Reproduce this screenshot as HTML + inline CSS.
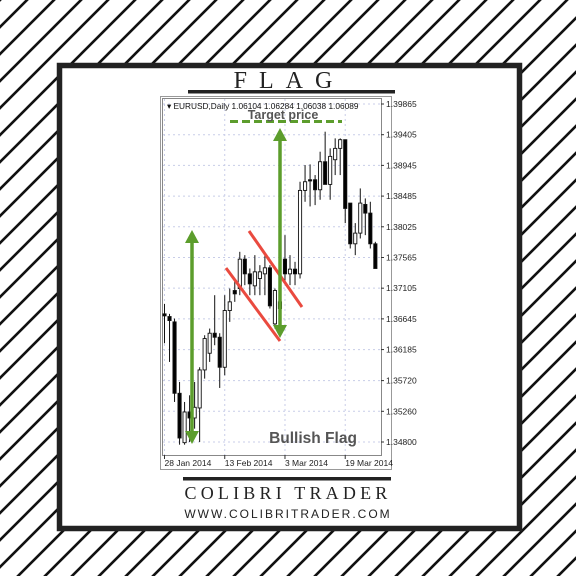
<!DOCTYPE html>
<html><head><meta charset="utf-8">
<style>
html,body{margin:0;padding:0;background:#fff;}
#wrap{position:relative;width:576px;height:576px;overflow:hidden;font-family:"Liberation Sans",sans-serif;}
svg{position:absolute;left:0;top:0;}
</style></head>
<body>
<div id="wrap">
<svg id="bg" width="576" height="576">
  <defs>
    <pattern id="stripes" width="27" height="27" patternUnits="userSpaceOnUse">
      <path d="M-7,7 L7,-7 M0,27 L27,0 M20,34 L34,20" stroke="#111" stroke-width="2.6"/>
    </pattern>
  </defs>
  <rect width="576" height="576" fill="#fff"/>
  <rect width="576" height="576" fill="url(#stripes)"/>
  <rect x="59.5" y="65.5" width="460" height="463" fill="#fff" stroke="#222" stroke-width="5.5"/>
  <text x="289" y="88" text-anchor="middle" font-family="Liberation Serif,serif" font-size="24" letter-spacing="12" fill="#222">FLAG</text>
  <rect x="188" y="90" width="207" height="3.5" fill="#222"/>
  <rect x="183" y="477" width="208" height="3.5" fill="#222"/>
  <text x="288" y="499" text-anchor="middle" font-family="Liberation Serif,serif" font-size="18" letter-spacing="4.2" fill="#222">COLIBRI TRADER</text>
  <text x="288" y="518" text-anchor="middle" font-family="Liberation Sans,sans-serif" font-size="12" letter-spacing="2" fill="#222">WWW.COLIBRITRADER.COM</text>
</svg>
<svg id="chart" width="576" height="576"></svg>
</div>
<script>
const opens  = [1.3672,1.3668,1.3660,1.3553,1.3479,1.3525,1.3516,1.3531,1.3588,1.3613,1.3643,1.3637,1.3592,1.3677,1.3707,1.3710,1.3754,1.3732,1.3714,1.3725,1.3732,1.3741,1.3657,1.3680,1.3754,1.3732,1.3739,1.3732,1.3857,1.3873,1.3873,1.3858,1.3900,1.3866,1.3903,1.3920,1.3933,1.3838,1.3777,1.3793,1.3836,1.3823,1.3777];
const highs  = [1.3687,1.3672,1.3665,1.3570,1.3540,1.3550,1.3570,1.3592,1.3640,1.3650,1.3700,1.3643,1.3700,1.3710,1.3725,1.3765,1.3760,1.3740,1.3760,1.3745,1.3760,1.3745,1.3710,1.3700,1.3790,1.3760,1.3750,1.3870,1.3895,1.3896,1.3880,1.3915,1.3945,1.3920,1.3935,1.3935,1.3933,1.3838,1.3808,1.3860,1.3845,1.3840,1.3780];
const lows   = [1.3628,1.3600,1.3540,1.3476,1.3476,1.3480,1.3500,1.3480,1.3575,1.3600,1.3625,1.3561,1.3580,1.3660,1.3690,1.3700,1.3715,1.3700,1.3700,1.3700,1.3700,1.3680,1.3650,1.3640,1.3720,1.3715,1.3715,1.3725,1.3840,1.3833,1.3835,1.3843,1.3870,1.3843,1.3880,1.3880,1.3808,1.3770,1.3760,1.3785,1.3790,1.3770,1.3740];
const closes = [1.3669,1.3662,1.3553,1.3486,1.3525,1.3516,1.3532,1.3588,1.3635,1.3643,1.3637,1.3592,1.3677,1.3690,1.3702,1.3754,1.3732,1.3717,1.3735,1.3735,1.3741,1.3684,1.3707,1.3690,1.3732,1.3739,1.3732,1.3857,1.3870,1.3872,1.3858,1.3900,1.3866,1.3908,1.3920,1.3933,1.3830,1.3777,1.3793,1.3838,1.3823,1.3777,1.3740];
const yTicks = ["1.39865","1.39405","1.38945","1.38485","1.38025","1.37565","1.37105","1.36645","1.36185","1.35720","1.35260","1.34800"];
const dateLabels = ["28 Jan 2014","13 Feb 2014","3 Mar 2014","19 Mar 2014"];
const dateIndex = [0,12,24,36];

const NS="http://www.w3.org/2000/svg";
const svg=document.getElementById('chart');
function el(tag,attrs,parent){const e=document.createElementNS(NS,tag);for(const k in attrs)e.setAttribute(k,attrs[k]);(parent||svg).appendChild(e);return e;}
const yTop=104, yBot=442, pTop=1.39865, pBot=1.34800;
function yS(p){return yTop+(pTop-p)/(pTop-pBot)*(yBot-yTop);}
function xS(i){return 164.5+i*5.02;}

let box=el('rect',{x:160.5,y:96.5,width:231,height:373,fill:'#fff',stroke:'#999','stroke-width':1});


let plot=el('rect',{x:162.5,y:98.5,width:219,height:357,fill:'#fff',stroke:'#888','stroke-width':1});



yTicks.forEach(t=>{
  const y=yS(parseFloat(t));
  const g=el('line',{x1:163,x2:381,y1:y,y2:y,stroke:'#c8cde8','stroke-width':1,'stroke-dasharray':'2,3'});
  
  
  const tk=el('line',{x1:381,x2:384,y1:y,y2:y,stroke:'#333','stroke-width':1});
  
  
  const tx=el('text',{x:386,y:y+3,'font-size':8.5,fill:'#222','font-family':'Liberation Sans,sans-serif'});
  tx.textContent=t;
  
  
});
dateLabels.forEach((d,k)=>{
  const x=xS(dateIndex[k]);
  const g=el('line',{x1:x,x2:x,y1:99,y2:455,stroke:'#c8cde8','stroke-width':1,'stroke-dasharray':'2,3'});
  
  
  const tk=el('line',{x1:x,x2:x,y1:455,y2:459,stroke:'#333','stroke-width':1});
  
  
  const tx=el('text',{x:x,y:466,'font-size':8.5,fill:'#222','font-family':'Liberation Sans,sans-serif'});
  tx.textContent=d;
  
  
});

const hdr=el('text',{x:167,y:109,'font-size':8.3,fill:'#111','font-family':'Liberation Sans,sans-serif'});
hdr.textContent='▾ EURUSD,Daily  1.06104 1.06284 1.06038 1.06089';



opens.forEach((o,i)=>{
  const x=xS(i), c=closes[i];
  const w=el('line',{x1:x,x2:x,y1:yS(highs[i]),y2:yS(lows[i]),stroke:'#111','stroke-width':1});
  
  
  const top=yS(Math.max(o,c)), bot=yS(Math.min(o,c));
  const b=el('rect',{x:x-1.6,y:top,width:3.2,height:Math.max(1.2,bot-top),fill:c<o?'#000':'#fff',stroke:'#111','stroke-width':0.9});
  
  
});

const r1=el('line',{x1:226,y1:268,x2:280,y2:341,stroke:'#ea4a3f','stroke-width':3});


const r2=el('line',{x1:249,y1:231,x2:302,y2:307,stroke:'#ea4a3f','stroke-width':3});



function arrow(x,yt,yb,name){
  const g=el('g',{});
  
  
  el('line',{x1:x,x2:x,y1:yt+10,y2:yb-10,stroke:'#5c9d2c','stroke-width':3.5},g);
  el('polygon',{points:`${x},${yt} ${x-7},${yt+13} ${x+7},${yt+13}`,fill:'#5c9d2c'},g);
  el('polygon',{points:`${x},${yb} ${x-7},${yb-13} ${x+7},${yb-13}`,fill:'#5c9d2c'},g);
}
arrow(192,230,444,'flagpole-arrow');
arrow(280,128,338,'target-arrow');

const tl=el('line',{x1:230,x2:342,y1:121.5,y2:121.5,stroke:'#5c9d2c','stroke-width':3,'stroke-dasharray':'8,4'});


const tt=el('text',{x:283,y:119,'text-anchor':'middle','font-size':12.5,'font-weight':'bold',fill:'#555','font-family':'Liberation Sans,sans-serif'});
tt.textContent='Target price';


const bf=el('text',{x:313,y:443,'text-anchor':'middle','font-size':15.5,'font-weight':'bold',fill:'#555','font-family':'Liberation Sans,sans-serif'});
bf.textContent='Bullish Flag';


</script>
</body></html>
